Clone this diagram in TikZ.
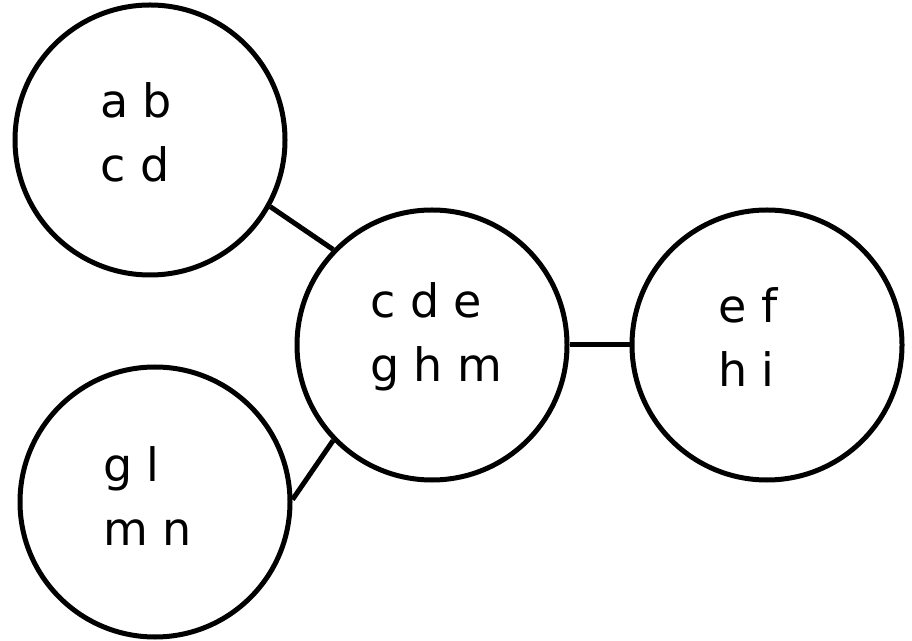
\documentclass[tikz,border=0pt]{standalone}
\usepackage{fontspec}
\setmainfont{DejaVu Sans}
\begin{document}
\begin{tikzpicture}[x=1pt,y=1pt,
  setnode/.style={circle,draw,line width=5pt,minimum size=270pt,inner sep=0pt},
  setlabel/.style={anchor=base west,inner sep=0pt,align=left,
    font=\fontsize{46}{64}\selectfont},
  link/.style={line width=5pt}]
\useasboundingbox (0,0) rectangle (912,640);
% the four sets
\node[setnode] (ab)  at (150,500) {};
\node[setnode] (gl)  at (155,138) {};
\node[setnode] (cde) at (432,295) {};
\node[setnode] (ef)  at (767,295) {};
% their members (anchored at the baseline of the last line)
\node[setlabel] (tab)  at (100,458) {a b\\c d};
\node[setlabel] (tgl)  at (103,95)  {g l\\m n};
\node[setlabel] (tcde) at (370,258) {c d e\\g h m};
\node[setlabel] (tef)  at (718,253) {e f\\h i};
% links between sets
\draw[link] (ab.-29) -- (cde.136);
\draw[link] (gl.1) -- (cde.224);
\draw[link] (cde.east) -- (ef.west);
\end{tikzpicture}
\end{document}
